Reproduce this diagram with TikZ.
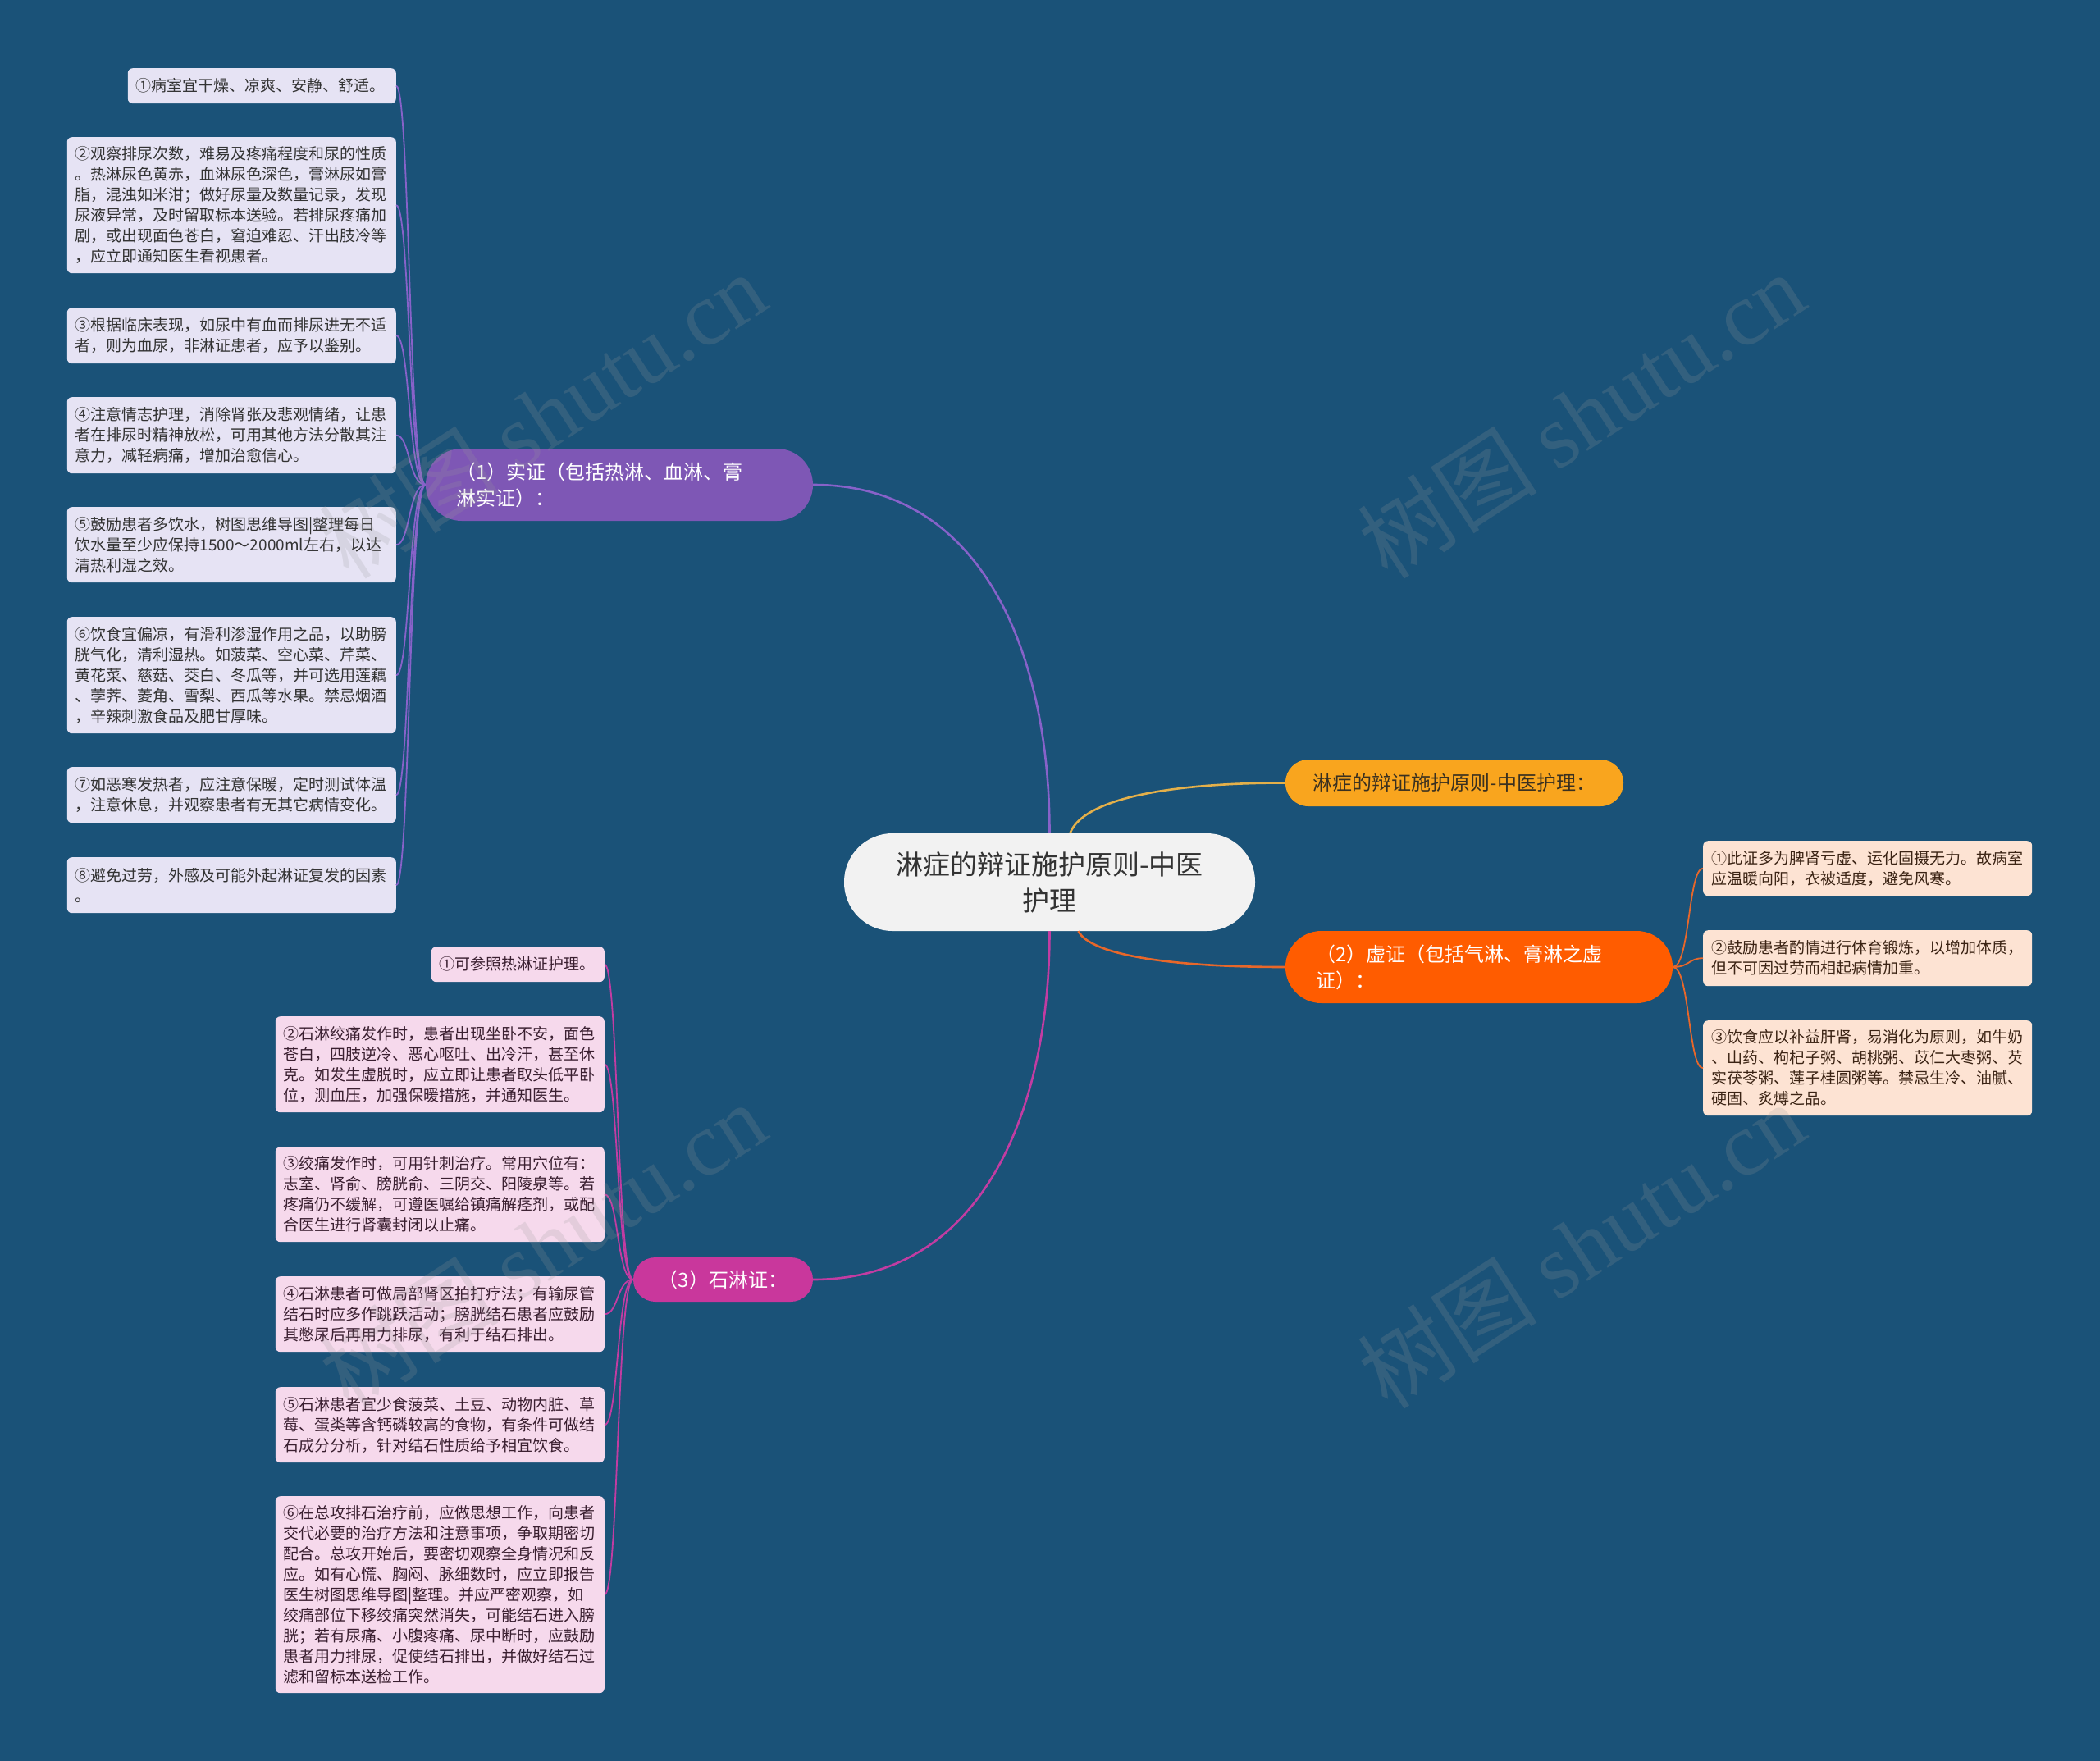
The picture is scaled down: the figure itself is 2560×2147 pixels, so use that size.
\documentclass[tikz,border=0pt]{standalone}
\usepackage{fontspec}
\setmainfont{Noto Sans CJK SC}
\newfontfamily\wmserif{Liberation Serif}
\newcommand\leaffont{\fontsize{19}{25}\selectfont}
\newcommand\branchfont{\fontsize{24}{32}\selectfont}
\newcommand\rootfont{\fontsize{33}{44}\selectfont}
\newcommand\wmfont{\fontsize{110}{120}\selectfont}
\definecolor{bg}{HTML}{1A5278}
\definecolor{purpleB}{HTML}{7E57B5}
\definecolor{purpleL}{HTML}{8762C9}
\definecolor{leafP}{HTML}{E6E3F4}
\definecolor{leafPT}{HTML}{333333}
\definecolor{yellowB}{HTML}{F9A51E}
\definecolor{yellowL}{HTML}{E4B04A}
\definecolor{yellowT}{HTML}{3A3020}
\definecolor{orangeB}{HTML}{FF5C00}
\definecolor{orangeL}{HTML}{E8672A}
\definecolor{leafO}{HTML}{FDE3D3}
\definecolor{leafOT}{HTML}{3B2314}
\definecolor{magB}{HTML}{C9379C}
\definecolor{magL}{HTML}{C23CA2}
\definecolor{leafM}{HTML}{F6D9EC}
\definecolor{leafMT}{HTML}{3A1F30}
\definecolor{rootF}{HTML}{F2F2F2}
\definecolor{rootT}{HTML}{333333}
\definecolor{wmc}{HTML}{9A9A9A}
\begin{document}
\begin{tikzpicture}[x=1pt,y=-1pt,
  leafbase/.style={rectangle, rounded corners=6pt, text width=381pt, inner xsep=10pt, inner ysep=0pt, align=left, font=\leaffont},
  leafp/.style={leafbase, fill=leafP, text=leafPT, anchor=north east},
  leafo/.style={leafbase, fill=leafO, text=leafOT, anchor=north west},
  leafm/.style={leafbase, fill=leafM, text=leafMT, anchor=north east},
  bigbranch/.style={rectangle, rounded corners=43.9pt, text width=398pt, inner xsep=37pt, inner ysep=0pt, minimum height=88pt, align=left, font=\branchfont, text=white},
  rootbox/.style={rectangle, rounded corners=59pt, fill=rootF, text=rootT, minimum width=501pt, minimum height=119pt, text width=440pt, align=center, font=\rootfont},
  mainline/.style={line width=2.6pt},
  leafline/.style={line width=1.8pt},
  wm/.style={text=wmc, opacity=0.2, font=\wmfont, rotate=33}
]
\fill[bg] (0,0) rectangle (2560,2147);
\useasboundingbox (0,0) rectangle (2560,2147);

% root
\node[rootbox] (root) at (1279.5,1075.5) {淋症的辩证施护原则-中医\\护理};

% branches
\node[bigbranch, fill=purpleB] (b1) at (755,591) {（1）实证（包括热淋、血淋、膏\\淋实证）：};
\node[bigbranch, fill=orangeB] (b2) at (1803,1179) {（2）虚证（包括气淋、膏淋之虚\\证）：};
\node[rectangle, rounded corners=28pt, fill=yellowB, text=yellowT, minimum width=412pt, minimum height=57pt, inner sep=0pt, font=\branchfont] (b0) at (1773,954.5) {淋症的辩证施护原则-中医护理：};
\node[rectangle, rounded corners=26.9pt, fill=magB, text=white, minimum width=219pt, minimum height=54pt, inner sep=0pt, font=\branchfont] (b3) at (881.5,1560) {（3）石淋证：};

% left purple leaves
\node[leafp, text width=307pt, minimum height=43pt] (l1) at (483,83) {①病室宜干燥、凉爽、安静、舒适。};
\node[leafp, minimum height=166pt] (l2) at (483,167) {②观察排尿次数，难易及疼痛程度和尿的性质\\。热淋尿色黄赤，血淋尿色深色，膏淋尿如膏\\脂，混浊如米泔；做好尿量及数量记录，发现\\尿液异常，及时留取标本送验。若排尿疼痛加\\剧，或出现面色苍白，窘迫难忍、汗出肢冷等\\，应立即通知医生看视患者。};
\node[leafp, minimum height=68pt] (l3) at (483,375) {③根据临床表现，如尿中有血而排尿进无不适\\者，则为血尿，非淋证患者，应予以鉴别。};
\node[leafp, minimum height=93pt] (l4) at (483,484) {④注意情志护理，消除肾张及悲观情绪，让患\\者在排尿时精神放松，可用其他方法分散其注\\意力，减轻病痛，增加治愈信心。};
\node[leafp, minimum height=92pt] (l5) at (483,618) {⑤鼓励患者多饮水，树图思维导图|整理每日\\饮水量至少应保持1500～2000ml左右，以达\\清热利湿之效。};
\node[leafp, minimum height=142pt] (l6) at (483,752) {⑥饮食宜偏凉，有滑利渗湿作用之品，以助膀\\胱气化，清利湿热。如菠菜、空心菜、芹菜、\\黄花菜、慈菇、茭白、冬瓜等，并可选用莲藕\\、荸荠、菱角、雪梨、西瓜等水果。禁忌烟酒\\，辛辣刺激食品及肥甘厚味。};
\node[leafp, minimum height=68pt] (l7) at (483,935) {⑦如恶寒发热者，应注意保暖，定时测试体温\\，注意休息，并观察患者有无其它病情变化。};
\node[leafp, minimum height=68pt] (l8) at (483,1045) {⑧避免过劳，外感及可能外起淋证复发的因素\\。};

% right orange leaves
\node[leafo, minimum height=67pt] (r1) at (2076,1025) {①此证多为脾肾亏虚、运化固摄无力。故病室\\应温暖向阳，衣被适度，避免风寒。};
\node[leafo, minimum height=68pt] (r2) at (2076,1134) {②鼓励患者酌情进行体育锻炼，以增加体质，\\但不可因过劳而相起病情加重。};
\node[leafo, minimum height=116pt] (r3) at (2076,1244) {③饮食应以补益肝肾，易消化为原则，如牛奶\\、山药、枸杞子粥、胡桃粥、苡仁大枣粥、芡\\实茯苓粥、莲子桂圆粥等。禁忌生冷、油腻、\\硬固、炙煿之品。};

% bottom-left magenta leaves
\node[leafm, text width=191pt, minimum height=43pt] (m1) at (737,1154) {①可参照热淋证护理。};
\node[leafm, minimum height=117pt] (m2) at (737,1239) {②石淋绞痛发作时，患者出现坐卧不安，面色\\苍白，四肢逆冷、恶心呕吐、出冷汗，甚至休\\克。如发生虚脱时，应立即让患者取头低平卧\\位，测血压，加强保暖措施，并通知医生。};
\node[leafm, minimum height=116pt] (m3) at (737,1398) {③绞痛发作时，可用针刺治疗。常用穴位有：\\志室、肾俞、膀胱俞、三阴交、阳陵泉等。若\\疼痛仍不缓解，可遵医嘱给镇痛解痉剂，或配\\合医生进行肾囊封闭以止痛。};
\node[leafm, minimum height=92pt] (m4) at (737,1556) {④石淋患者可做局部肾区拍打疗法；有输尿管\\结石时应多作跳跃活动；膀胱结石患者应鼓励\\其憋尿后再用力排尿，有利于结石排出。};
\node[leafm, minimum height=92pt] (m5) at (737,1691) {⑤石淋患者宜少食菠菜、土豆、动物内脏、草\\莓、蛋类等含钙磷较高的食物，有条件可做结\\石成分分析，针对结石性质给予相宜饮食。};
\node[leafm, minimum height=240pt] (m6) at (737,1824) {⑥在总攻排石治疗前，应做思想工作，向患者\\交代必要的治疗方法和注意事项，争取期密切\\配合。总攻开始后，要密切观察全身情况和反\\应。如有心慌、胸闷、脉细数时，应立即报告\\医生树图思维导图|整理。并应严密观察，如\\绞痛部位下移绞痛突然消失，可能结石进入膀\\胱；若有尿痛、小腹疼痛、尿中断时，应鼓励\\患者用力排尿，促使结石排出，并做好结石过\\滤和留标本送检工作。};

% main connectors
\draw[mainline, purpleL] (root.north) .. controls (1279.5,800) and (1200,591) .. (b1.east);
\draw[mainline, magL] (root.south) .. controls (1279.5,1350) and (1200,1560) .. (b3.east);
\draw[mainline, yellowL] ([xshift=25pt]root.north) .. controls (1320,975) and (1420,954.5) .. (b0.west);
\draw[mainline, orangeL] ([xshift=35pt]root.south) .. controls (1330,1165) and (1430,1179) .. (b2.west);

% leaf connectors
\foreach \n in {l1,l2,l3,l4,l5,l6,l7,l8}
  \draw[leafline, purpleL] (b1.west) .. controls (498,591) and (500,0 |- \n.east) .. (\n.east);
\foreach \n in {r1,r2,r3}
  \draw[leafline, orangeL] (b2.east) .. controls (2060,1179) and (2058,0 |- \n.west) .. (\n.west);
\foreach \n in {m1,m2,m3,m4,m5,m6}
  \draw[leafline, magL] (b3.west) .. controls (752,1560) and (754,0 |- \n.east) .. (\n.east);

% watermarks (on top, faint)
\node[wm] (w1) at (661,506) {树图 {\wmserif shutu.cn}};
\node[wm] (w2) at (1927,506) {树图 {\wmserif shutu.cn}};
\node[wm] (w3) at (661,1518) {树图 {\wmserif shutu.cn}};
\node[wm] (w4) at (1927,1518) {树图 {\wmserif shutu.cn}};
\end{tikzpicture}
\end{document}
